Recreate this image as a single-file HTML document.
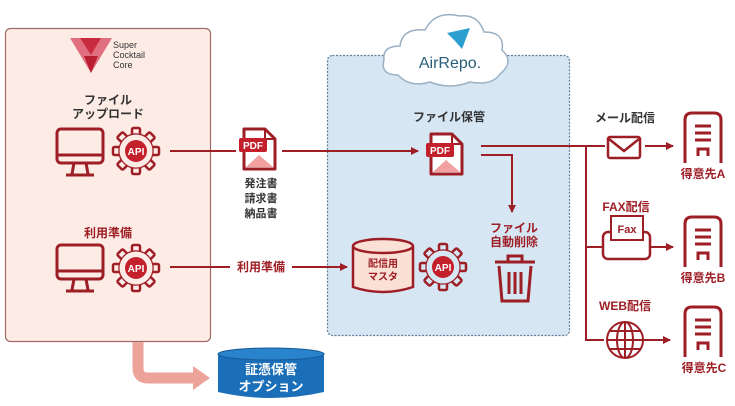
<!DOCTYPE html>
<html><head><meta charset="utf-8"><style>
html,body{margin:0;padding:0;background:#fff;}
svg{display:block;font-family:"Liberation Sans","Noto Sans CJK JP",sans-serif;}
</style></head><body>
<svg width="735" height="406" viewBox="0 0 735 406" xmlns="http://www.w3.org/2000/svg">
<defs>
<g id="mon" fill="none" stroke="#9e1e26" stroke-width="3">
  <rect x="-23" y="-22" width="46" height="34" rx="4"/>
  <line x1="-23" y1="4" x2="23" y2="4"/>
  <line x1="-6" y1="12" x2="-8" y2="23"/><line x1="6" y1="12" x2="8" y2="23"/>
  <line x1="-14" y1="24" x2="14" y2="24"/>
</g>
<g id="tooth"><rect x="-4" y="-23" width="8" height="9" rx="1.5" stroke="#9e1e26" stroke-width="2.5"/></g>
<g id="gear">
  <use href="#tooth"/><use href="#tooth" transform="rotate(45)"/><use href="#tooth" transform="rotate(90)"/><use href="#tooth" transform="rotate(135)"/>
  <use href="#tooth" transform="rotate(180)"/><use href="#tooth" transform="rotate(225)"/><use href="#tooth" transform="rotate(270)"/><use href="#tooth" transform="rotate(315)"/>
  <circle r="16.5" stroke="#9e1e26" stroke-width="2.5"/>
  <circle r="16.5" stroke="none"/>
  <circle r="11" fill="#c4202c"/>
  <text y="4" text-anchor="middle" font-size="10" font-weight="bold" fill="#fff">API</text>
</g>
<g id="pdf">
  <path d="M-15,-20 H6 L16,-10 V20 H-15 Z" fill="#fff" stroke="#9e1e26" stroke-width="3" stroke-linejoin="round"/>
  <path d="M6,-20 V-10 H16" fill="none" stroke="#9e1e26" stroke-width="2"/>
  <path d="M-13,18 L0,6 L14,18 Z" fill="#f2a0a0"/>
  <rect x="-20" y="-11" width="28" height="14" rx="2" fill="#c4202c"/>
  <text x="-6" y="0" text-anchor="middle" font-size="10" font-weight="bold" fill="#fff">PDF</text>
</g>
<g id="bld" fill="none" stroke="#9e1e26" stroke-width="3">
  <path d="M-18,25 V-18 Q-18,-25 -11,-25 H11 Q18,-25 18,-18 V25"/>
  <line x1="-8" y1="-12" x2="8" y2="-12"/><line x1="-8" y1="-5" x2="8" y2="-5"/><line x1="-8" y1="2" x2="8" y2="2"/>
  <path d="M-5,18 V11 H5 V18"/>
</g>
<marker id="ar" markerWidth="8" markerHeight="8" refX="7" refY="4" orient="auto" markerUnits="userSpaceOnUse"><path d="M0,0 L8,4 L0,8 Z" fill="#9e1e26"/></marker>
</defs>

<rect x="5.5" y="28.5" width="205" height="313" rx="5" fill="#fdece6" stroke="#a06a6a" stroke-width="1.2"/>
<polygon points="70,38 112,38 91,73" fill="#e07080"/>
<polygon points="80,38 101,38 91,55" fill="#c82a40"/>
<polygon points="84,56 98,56 91,73" fill="#b81e30"/>
<text font-size="9" fill="#333"><tspan x="113" y="48">Super</tspan><tspan x="113" y="58">Cocktail</tspan><tspan x="113" y="68">Core</tspan></text>
<text text-anchor="middle" font-size="12" font-weight="bold" fill="#333"><tspan x="108" y="104">ファイル</tspan><tspan x="108" y="118">アップロード</tspan></text>
<use href="#mon" x="80" y="151"/><use href="#gear" x="136" y="151" fill="#fdece6"/>
<text x="108" y="237" text-anchor="middle" font-size="12" font-weight="bold" fill="#9e1e26">利用準備</text>
<use href="#mon" x="80" y="267"/><use href="#gear" x="136" y="268" fill="#fdece6"/>

<rect x="327.5" y="55.5" width="242" height="280" rx="5" fill="#d6e6f3" stroke="#5f7c98" stroke-width="1.2" stroke-dasharray="2 1.5"/>
<g fill="#fff" stroke="#9ab0c4" stroke-width="1.5">
<path d="M398,75 Q380,75 384,60 Q382,46 400,46 Q402,28 425,30 Q435,10 460,16 Q478,14 484,32 Q505,32 502,50 Q515,62 500,74 Q492,86 470,82 Q450,90 430,82 Q410,88 398,75 Z"/>
</g>
<polygon points="447,33 470,28 462,49 455,41" fill="#2a9fd0"/>
<text x="450" y="68" text-anchor="middle" font-size="16" fill="#2a5e7a">AirRepo.</text>

<text x="449" y="121" text-anchor="middle" font-size="12" font-weight="bold" fill="#333">ファイル保管</text>
<use href="#pdf" x="446" y="154"/>
<text text-anchor="middle" font-size="12" font-weight="bold" fill="#9e1e26"><tspan x="514" y="232">ファイル</tspan><tspan x="514" y="246">自動削除</tspan></text>
<g fill="none" stroke="#9e1e26" stroke-width="3">
<line x1="495" y1="262" x2="535" y2="262"/><path d="M508,262 V256 H522 V262"/>
<path d="M499,266 L502,301 H528 L531,266"/>
<line x1="509" y1="272" x2="509" y2="294"/><line x1="515" y1="272" x2="515" y2="294"/><line x1="521" y1="272" x2="521" y2="294"/>
</g>
<path d="M353,246 V287 Q383,297 413,287 V246" fill="#fbe0d6" stroke="#9e1e26" stroke-width="2.5"/>
<ellipse cx="383" cy="246" rx="30" ry="7" fill="#fbe0d6" stroke="#9e1e26" stroke-width="2.5"/>
<text text-anchor="middle" font-size="10" font-weight="bold" fill="#9e1e26"><tspan x="383" y="267">配信用</tspan><tspan x="383" y="280">マスタ</tspan></text>
<use href="#gear" x="443" y="267" fill="#d6e6f3"/>

<g stroke="#9e1e26" stroke-width="2" fill="none">
<line x1="170" y1="151" x2="236" y2="151"/>
<line x1="282" y1="151" x2="418" y2="151" marker-end="url(#ar)"/>
<line x1="170" y1="267" x2="230" y2="267"/>
<line x1="292" y1="267" x2="347" y2="267" marker-end="url(#ar)"/>
<line x1="481" y1="146" x2="605" y2="146"/>
<path d="M481,155 H512 V212" marker-end="url(#ar)"/>
<path d="M586,146 V340 H604"/>
<line x1="586" y1="247" x2="603" y2="247"/>
<line x1="645" y1="146" x2="673" y2="146" marker-end="url(#ar)"/>
<line x1="651" y1="247" x2="673" y2="247" marker-end="url(#ar)"/>
<line x1="643" y1="340" x2="670" y2="340" marker-end="url(#ar)"/>
</g>
<use href="#pdf" x="259" y="149"/>
<text text-anchor="middle" font-size="11" font-weight="bold" fill="#333"><tspan x="261" y="187">発注書</tspan><tspan x="261" y="202">請求書</tspan><tspan x="261" y="217">納品書</tspan></text>
<text x="261" y="271" text-anchor="middle" font-size="12" font-weight="bold" fill="#9e1e26">利用準備</text>

<text x="625" y="122" text-anchor="middle" font-size="12" font-weight="bold" fill="#333">メール配信</text>
<rect x="608" y="137" width="32" height="21" rx="2" fill="#fff" stroke="#9e1e26" stroke-width="2.5"/>
<path d="M609,139 L624,151 L639,139" fill="none" stroke="#9e1e26" stroke-width="2.5"/>
<text x="626" y="211" text-anchor="middle" font-size="12" font-weight="bold" fill="#9e1e26">FAX配信</text>
<rect x="603" y="232" width="47" height="27" rx="5" fill="#fff" stroke="#9e1e26" stroke-width="2.5"/>
<rect x="611" y="216" width="32" height="24" fill="#fff" stroke="#9e1e26" stroke-width="2"/>
<text x="627" y="233" text-anchor="middle" font-size="11" font-weight="bold" fill="#9e1e26">Fax</text>
<text x="625" y="310" text-anchor="middle" font-size="12" font-weight="bold" fill="#9e1e26">WEB配信</text>
<g fill="none" stroke="#9e1e26" stroke-width="2">
<circle cx="625" cy="340" r="18"/><ellipse cx="625" cy="340" rx="8" ry="18"/>
<line x1="607" y1="340" x2="643" y2="340"/><line x1="609" y1="331" x2="641" y2="331"/><line x1="609" y1="349" x2="641" y2="349"/><line x1="625" y1="322" x2="625" y2="358"/>
</g>
<use href="#bld" x="703" y="138"/><use href="#bld" x="703" y="242"/><use href="#bld" x="703" y="332"/>
<text text-anchor="middle" font-size="12" font-weight="bold" fill="#9e1e26"><tspan x="703" y="178">得意先A</tspan><tspan x="703" y="282">得意先B</tspan><tspan x="704" y="372">得意先C</tspan></text>

<path d="M138,342 V368 Q138,378 148,378 H195" fill="none" stroke="#eca39a" stroke-width="11"/>
<polygon points="193,366 210,378 193,390" fill="#eca39a"/>
<path d="M218,354 V392 Q271,404 324,392 V354" fill="#1b6fb8"/>
<ellipse cx="271" cy="354" rx="53" ry="6" fill="#2a84cc" stroke="#155a96" stroke-width="1"/>
<text text-anchor="middle" font-size="13" font-weight="bold" fill="#fff"><tspan x="271" y="374">証憑保管</tspan><tspan x="271" y="391">オプション</tspan></text>
</svg>
</body></html>
